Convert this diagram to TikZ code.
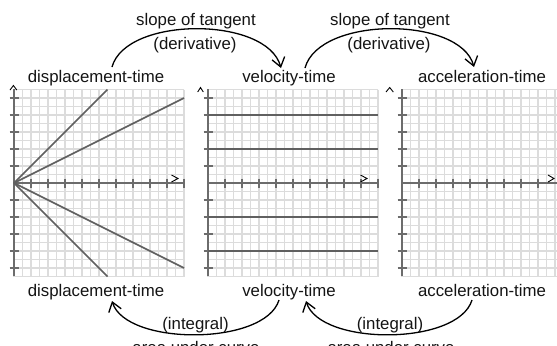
\documentclass[tikz,border=0pt]{standalone}
\usepackage{fontspec}
\setmainfont{Liberation Sans}
\usetikzlibrary{arrows.meta}
\definecolor{gridc}{RGB}{220,220,220}
\definecolor{axisc}{RGB}{108,108,108}
\definecolor{plotc}{RGB}{96,96,96}
\definecolor{txt}{RGB}{20,20,20}
\begin{document}
\begin{tikzpicture}[x=1bp,y=-1bp,
  gridline/.style={draw=gridc,line width=1.1bp},
  axisline/.style={draw=axisc,line width=1.6bp},
  plotline/.style={draw=plotc,line width=1.6bp},
  chev/.style={draw=black,line width=0.9bp},
  lbl/.style={anchor=base,inner sep=0pt,text=txt,font=\fontsize{16.8bp}{20bp}\selectfont},
  conn/.style={draw=black,line width=1.3bp,-{Straight Barb[length=9bp,width=13bp]}}
]
\useasboundingbox (0,0) rectangle (557,345);
\clip (0,0) rectangle (557,345);

% grids, axes, ticks
\foreach \ox/\w/\nt in {14/170/10, 208/170/10, 402/160/8}{
  \begin{scope}[shift={(\ox,183)}]
    \foreach \i in {0,...,20}{
      \pgfmathsetmacro{\xx}{\i*8.5}
      \ifdim \xx pt < \w pt
        \draw[gridline] (\xx,-93.5) -- (\xx,93.5);
      \fi
    }
    \draw[gridline] (\w,-93.5) -- (\w,93.5);
    \foreach \j in {-11,...,11}{
      \draw[gridline] (0,{\j*8.5}) -- (\w,{\j*8.5});
    }
    \draw[axisline] (0,-94) -- (0,93);
    \draw[axisline] (0,0) -- (\w,0);
    \foreach \j in {-5,...,-1,1,2,3,4,5}{
      \draw[axisline] (-4.5,{\j*17}) -- (4.5,{\j*17});
    }
    \foreach \k in {1,...,\nt}{
      \draw[axisline] ({\k*17},-4.5) -- ({\k*17},4.5);
    }
  \end{scope}
}

% plot lines, panel 1
\coordinate (o1) at (14,183);
\coordinate (p1a) at (107.5,89.5);
\coordinate (p1b) at (184,98);
\coordinate (p1c) at (184,268);
\coordinate (p1d) at (107.5,276.5);
\draw[plotline] (o1) -- (p1a);
\draw[plotline] (o1) -- (p1b);
\draw[plotline] (o1) -- (p1c);
\draw[plotline] (o1) -- (p1d);

% plot lines, panel 2
\foreach \yy in {115,149,217,251}{
  \draw[plotline] (208,\yy) -- (378,\yy);
}

% axis chevrons
\draw[chev] (10,90) -- (13.4,85.5) -- (16.8,90);
\draw[chev] (197.7,92) -- (200.5,87.5) -- (203.3,92);
\draw[chev] (386,92) -- (389.7,87.5) -- (393.3,92);
\draw[chev] (171.5,175) -- (178,178.5) -- (171.5,182);
\draw[chev] (360.5,175) -- (367,178.5) -- (360.5,182);
\draw[chev] (548,175) -- (554,178.5) -- (548,182);

% labels
\node[lbl] (slopeA) at (196,25) {slope of tangent};
\node[lbl] (derivA) at (195,49.5) {(derivative)};
\node[lbl] (slopeB) at (390,25) {slope of tangent};
\node[lbl] (derivB) at (389,49.5) {(derivative)};
\node[lbl] (dtTop) at (96,82) {displacement-time};
\node[lbl] (vtTop) at (289,82) {velocity-time};
\node[lbl] (atTop) at (482,82) {acceleration-time};
\node[lbl] (dtBot) at (96,296) {displacement-time};
\node[lbl] (vtBot) at (289,296) {velocity-time};
\node[lbl] (atBot) at (482,296) {acceleration-time};
\node[lbl] (integA) at (195.5,329) {(integral)};
\node[lbl] (integB) at (390,329) {(integral)};
\node[lbl] (areaA) at (196,353) {area under curve};
\node[lbl] (areaB) at (391,353) {area under curve};

% connectors
\coordinate (dA1) at (112,67);
\coordinate (dA2) at (281,68);
\coordinate (dB1) at (305,68);
\coordinate (dB2) at (474,67);
\coordinate (iA1) at (279,300);
\coordinate (iA2) at (112,301);
\coordinate (iB1) at (472,300);
\coordinate (iB2) at (306,301);
\draw[conn] (dA1) .. controls (126,16) and (267,16) .. (dA2);
\draw[conn] (dB1) .. controls (319,16) and (460,16) .. (dB2);
\draw[conn] (iA1) .. controls (265,346) and (126,346) .. (iA2);
\draw[conn] (iB1) .. controls (458,346) and (320,346) .. (iB2);
\end{tikzpicture}
\end{document}
